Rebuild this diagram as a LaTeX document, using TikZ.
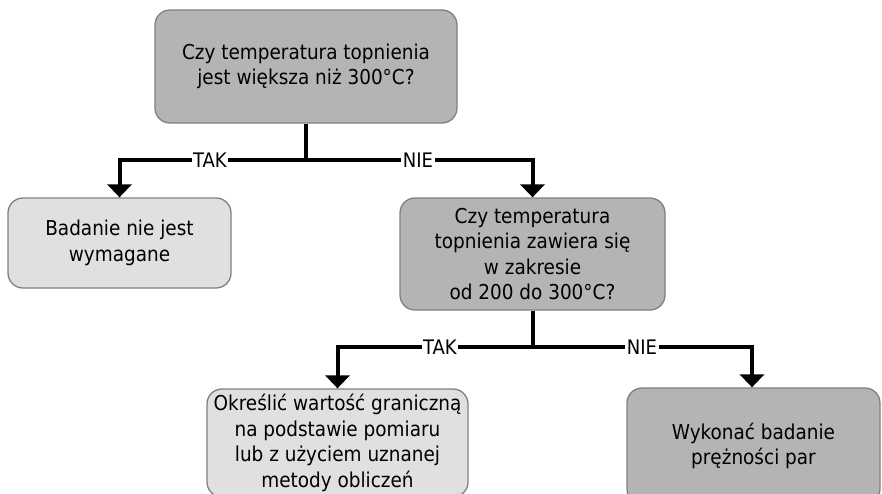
\documentclass[tikz,border=0pt]{standalone}
\usepackage{fontspec}
\setmainfont{DejaVu Sans Condensed}
\usetikzlibrary{arrows.meta}
\definecolor{boxdark}{HTML}{B4B4B4}
\definecolor{boxlight}{HTML}{E0E0E0}
\definecolor{boxedge}{HTML}{808080}
\begin{document}
\begin{tikzpicture}[x=1pt,y=-1pt,
  box/.style={draw=boxedge,line width=1.3pt,rounded corners=15pt,
    align=center,inner sep=0pt,font=\fontsize{20.5}{25.5}\selectfont},
  dark/.style={box,fill=boxdark},
  light/.style={box,fill=boxlight},
  link/.style={line width=4pt,line join=miter},
  arr/.style={link,-{Triangle[width=24pt,length=13pt]}},
  lab/.style={fill=white,inner sep=1.5pt,font=\fontsize{20}{22}\selectfont}]
\useasboundingbox (0,0) rectangle (882,493);
% decision and result boxes
\node[dark,minimum width=302pt,minimum height=113pt] (q1) at (306,66.5)
  {Czy temperatura topnienia\\jest większa niż 300°C?};
\node[light,minimum width=223pt,minimum height=90pt] (r1) at (119.5,243)
  {Badanie nie jest\\wymagane};
\node[dark,minimum width=265pt,minimum height=112pt] (q2) at (532.5,254)
  {Czy temperatura\\topnienia zawiera się\\w zakresie\\od 200 do 300°C?};
\node[light,minimum width=261pt,minimum height=108pt] (r2) at (337.5,443)
  {Określić wartość graniczną\\na podstawie pomiaru\\lub z użyciem uznanej\\metody obliczeń};
\node[dark,minimum width=253pt,minimum height=116pt] (r3) at (753.5,446)
  {Wykonać badanie\\prężności par};
% branch points
\coordinate (j1) at (306,160);
\coordinate (j2) at (532.5,347);
% connectors of the first question
\draw[link] (q1.south) -- (j1);
\draw[arr] (j1) -| (r1.north);
\draw[arr] (j1) -| (q2.north);
\node[lab] (t1) at (210,160) {TAK};
\node[lab] (n1) at (418,160) {NIE};
% connectors of the second question
\draw[link] (q2.south) -- (j2);
\draw[arr] (j2) -| (r2.north);
\draw[arr] (j2) -| ([xshift=-1.5pt]r3.north);
\node[lab] (t2) at (440,347) {TAK};
\node[lab] (n2) at (642,347) {NIE};
\end{tikzpicture}
\end{document}
